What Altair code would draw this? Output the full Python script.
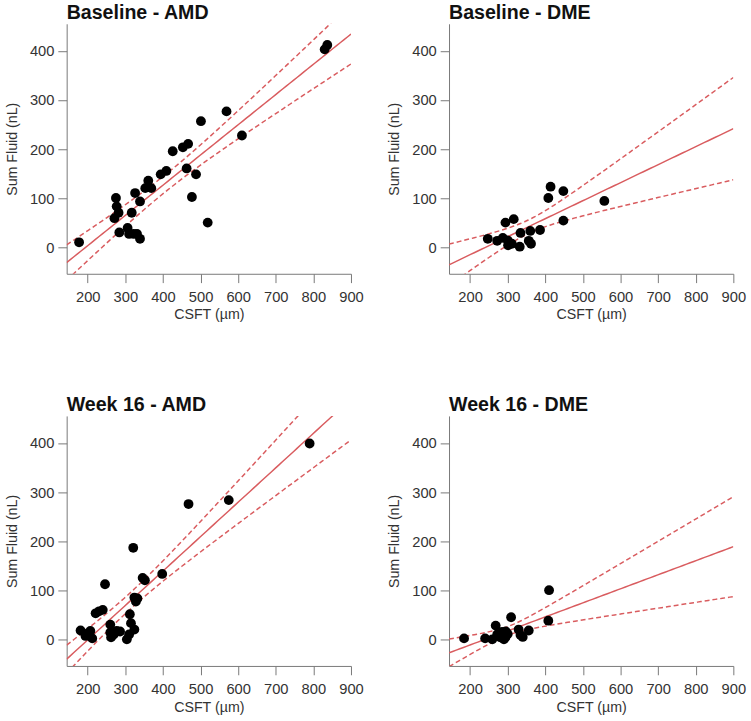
import numpy as np
import pandas as pd
import altair as alt

# CSFT (µm) and summed fluid volume (nL) per eye, by visit and disease
base_amd_csft = [177, 275, 277, 282, 271, 284, 306, 310, 322, 331, 339, 317, 326, 339,
                 353, 361, 369, 394, 409, 426, 453, 467, 463, 488, 477, 501, 519, 569,
                 610, 830, 837]
base_amd_fluid = [11, 101, 84, 71, 60, 31, 40, 28, 28, 28, 18, 71, 111, 94,
                  121, 136, 121, 149, 156, 196, 204, 211, 161, 149, 103, 257, 51, 277,
                  228, 403, 412]

base_dme_csft = [247, 272, 287, 294, 316, 301, 311, 300, 334, 332, 360, 356, 362, 386,
                 414, 408, 448, 448, 557]
base_dme_fluid = [18, 14, 20, 51, 58, 5, 8, 15, 30, 2, 34, 14, 8, 36,
                  124, 101, 115, 55, 95]

wk16_amd_csft = [181, 194, 200, 207, 212, 221, 230, 240, 246, 260, 260, 262, 269, 277,
                 286, 304, 310, 312, 315, 324, 324, 321, 328, 332, 346, 352, 398, 468,
                 575, 790]
wk16_amd_fluid = [19, 8, 13, 18, 3, 54, 58, 61, 113, 31, 15, 5, 11, 18,
                  17, 1, 11, 52, 34, 21, 86, 187, 78, 84, 126, 121, 134, 276,
                  284, 399]

wk16_dme_csft = [184, 240, 259, 268, 272, 280, 285, 290, 294, 295, 309, 329, 334, 340,
                 356, 410, 408, 276, 300]
wk16_dme_fluid = [3, 3, 1, 29, 11, 5, 16, 1, 5, 17, 46, 21, 10, 6,
                  19, 101, 39, 9, 12]

panels = [
    ("Baseline - AMD", base_amd_csft, base_amd_fluid),
    ("Baseline - DME", base_dme_csft, base_dme_fluid),
    ("Week 16 - AMD", wk16_amd_csft, wk16_amd_fluid),
    ("Week 16 - DME", wk16_dme_csft, wk16_dme_fluid),
]

X_DOMAIN = [144, 900]
Y_DOMAIN = [-53, 455]
RED = "#d95c5f"
FONT = "Liberation Sans"


def t975(df):
    # Cornish-Fisher expansion of the 97.5% Student t quantile
    z = 1.959964
    return (z + (z**3 + z) / (4 * df)
            + (5 * z**5 + 16 * z**3 + 3 * z) / (96 * df**2)
            + (3 * z**7 + 19 * z**5 + 17 * z**3 - 15 * z) / (384 * df**3))


def fit_table(xv, yv):
    # least-squares line with the 95% confidence band of the mean
    x = np.asarray(xv, float)
    y = np.asarray(yv, float)
    n = len(x)
    xm, ym = x.mean(), y.mean()
    sxx = ((x - xm) ** 2).sum()
    b1 = ((x - xm) * (y - ym)).sum() / sxx
    b0 = ym - b1 * xm
    s = np.sqrt(((y - b0 - b1 * x) ** 2).sum() / (n - 2))
    xs = np.linspace(X_DOMAIN[0], X_DOMAIN[1], 80)
    fit = b0 + b1 * xs
    hw = t975(n - 2) * s * np.sqrt(1 / n + (xs - xm) ** 2 / sxx)
    return pd.DataFrame({"csft": xs, "fit": fit, "lo": fit - hw, "hi": fit + hw})


def panel(title, xv, yv):
    pts = pd.DataFrame({"csft": xv, "fluid": yv})
    band = fit_table(xv, yv)
    xs = alt.Scale(domain=X_DOMAIN, nice=False, zero=False)
    ys = alt.Scale(domain=Y_DOMAIN, nice=False, zero=False)
    xax = alt.Axis(values=[200, 300, 400, 500, 600, 700, 800, 900], title="CSFT (µm)")
    yax = alt.Axis(values=[0, 100, 200, 300, 400], title="Sum Fluid (nL)")

    base = alt.Chart(band)
    fit = base.mark_line(color=RED, strokeWidth=1.5, clip=True).encode(
        x=alt.X("csft:Q", scale=xs, axis=xax),
        y=alt.Y("fit:Q", scale=ys, axis=yax),
    )
    hi = base.mark_line(color=RED, strokeWidth=1.5, strokeDash=[5, 3], clip=True).encode(
        x=alt.X("csft:Q", scale=xs), y=alt.Y("hi:Q", scale=ys)
    )
    lo = base.mark_line(color=RED, strokeWidth=1.5, strokeDash=[5, 3], clip=True).encode(
        x=alt.X("csft:Q", scale=xs), y=alt.Y("lo:Q", scale=ys)
    )
    dots = alt.Chart(pts).mark_circle(color="black", opacity=1, size=100).encode(
        x=alt.X("csft:Q", scale=xs), y=alt.Y("fluid:Q", scale=ys)
    )
    return alt.layer(fit, hi, lo, dots).properties(
        width=290,
        height=255,
        title=alt.TitleParams(
            title, anchor="start", frame="group", fontSize=20, fontWeight="bold",
            font=FONT, color="#111", offset=1,
        ),
    )


chart = alt.concat(
    *[panel(t, x, y) for t, x, y in panels],
    columns=2,
    spacing={"row": 145, "column": 100},
    bounds="flush",
).configure_view(stroke=None).configure_axis(
    grid=False,
    domainColor="#777",
    tickColor="#777",
    tickSize=9,
    labelFont=FONT,
    labelFontSize=15,
    labelColor="#333",
    labelPadding=4,
    labelFlush=False,
    labelOverlap=False,
    titleFont=FONT,
    titleFontSize=14.5,
    titleFontWeight="normal",
    titleColor="#333",
).configure_axisX(labelPadding=7, titlePadding=4).configure_axisY(titlePadding=10).properties(
    padding={"left": 4, "top": -4, "right": 5, "bottom": 5},
    background="white",
)

chart.save("out.html", embed_options={"renderer": "svg", "actions": False})
